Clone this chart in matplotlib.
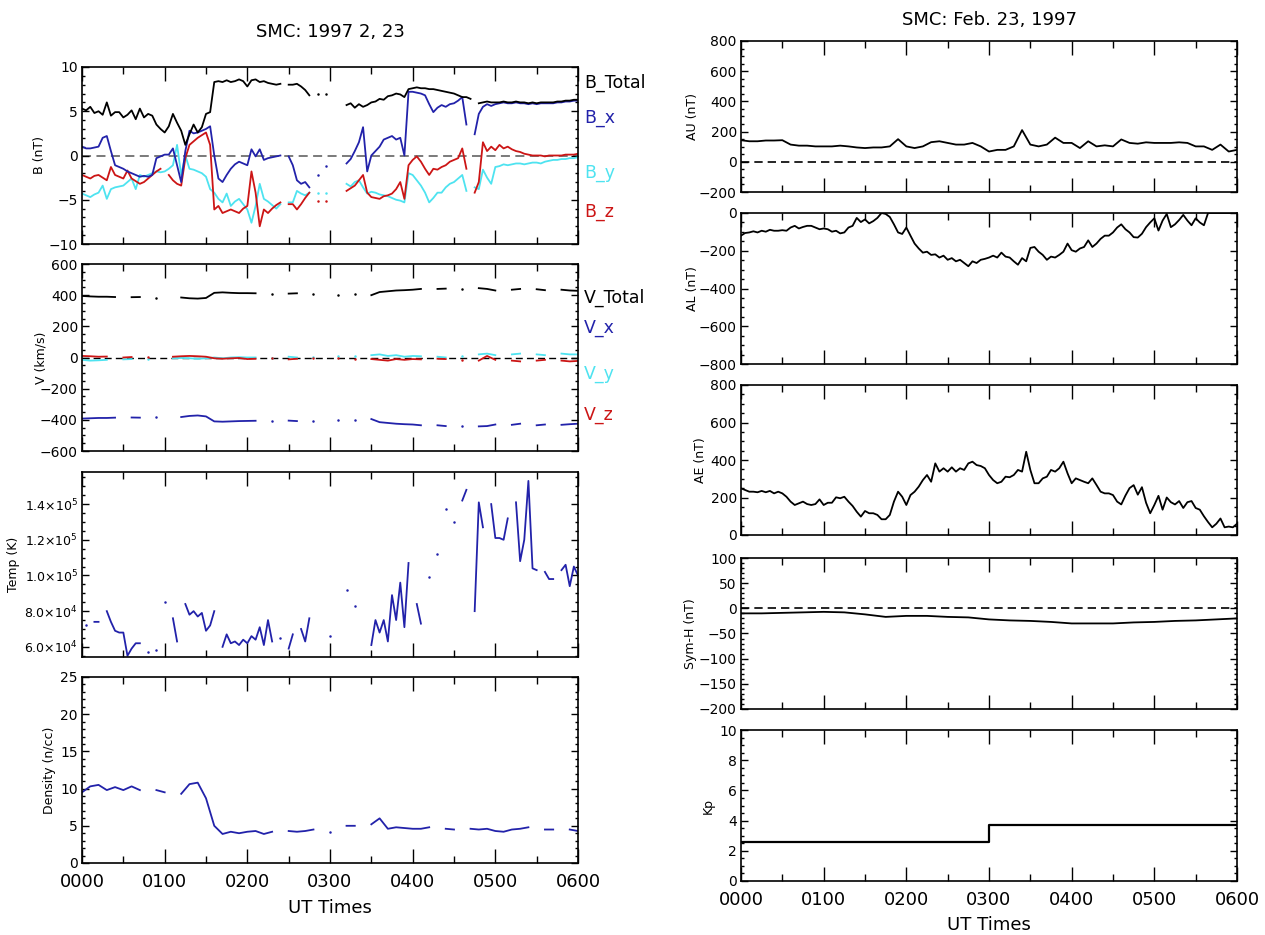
import numpy as np
import matplotlib.pyplot as plt
from matplotlib.ticker import MultipleLocator, FuncFormatter

nan = np.nan

# ---------------- solar wind, 0000-0600 UT ----------------
# IMF, 3-minute samples
b_total = [5.3, 5.1, 5.5, 4.8, 5.0, 4.6, 6.0, 4.5, 4.9, 4.9,
           4.3, 4.6, 5.1, 4.1, 5.3, 4.3, 4.7, 4.5, 3.5, 3.0,
           2.6, 3.3, 4.7, 3.7, 2.8, 1.2, 2.4, 3.5, 2.6, 3.2,
           4.7, 4.9, 8.3, 8.4, 8.3, 8.5, 8.3, 8.4, 8.6, 8.4,
           7.8, 8.5, 8.6, 8.3, 8.4, 8.2, 8.1, 8.0, 8.1, nan,
           8.0, 8.0, 8.1, 7.8, 7.4, 6.8, nan, 6.9, nan, 6.9,
           nan, nan, nan, nan, 5.7, 5.9, 5.4, 5.8, 5.5, 5.7,
           6.0, 6.1, 6.4, 6.3, 6.7, 6.8, 7.0, 6.9, 6.6, 7.5,
           7.6, 7.7, 7.6, 7.6, 7.5, 7.5, 7.4, 7.3, 7.2, 7.1,
           7.0, 6.8, 6.6, 6.6, 6.4, nan, 5.9, 6.0, 6.1, 6.0,
           6.0, 6.0, 6.1, 6.0, 6.0, 6.1, 6.0, 6.0, 5.9, 6.0,
           5.9, 6.0, 6.0, 6.0, 6.0, 6.1, 6.1, 6.2, 6.2, 6.3,
           6.3]
b_x = [1.0, 0.8, 0.8, 0.9, 1.0, 2.0, 2.2, 0.5, -1.1, -1.3,
       -1.5, -1.8, -2.0, -2.2, -2.4, -2.3, -2.4, -2.2, -0.3, -0.1,
       0.1, 0.1, 0.8, -1.1, -3.0, 0.5, 2.8, 2.5, 2.6, 2.8,
       3.0, 3.3, 0.0, -2.6, -3.0, -2.2, -1.5, -1.0, -0.7, -0.9,
       -1.1, 0.7, -0.1, 0.7, -0.5, -0.3, -0.2, -0.1, 0.0, nan,
       -0.1, -1.1, -2.8, -3.2, -3.0, -3.6, nan, -2.2, nan, -1.2,
       nan, nan, nan, nan, -0.9, -0.4, 0.5, 1.5, 3.2, -1.8,
       0.0, 0.5, 1.0, 1.8, 2.0, 2.2, 1.8, 2.0, 0.0, 7.2,
       7.2, 7.1, 7.0, 6.8, 5.8, 4.9, 5.4, 5.7, 5.5, 5.8,
       5.9, 6.2, 6.6, 3.5, nan, 2.4, 4.7, 5.5, 5.8, 5.6,
       5.8, 5.9, 6.0, 5.9, 5.9, 6.0, 5.9, 5.9, 5.8, 5.9,
       5.8, 5.9, 5.9, 5.9, 5.9, 6.0, 6.0, 6.1, 6.1, 6.2,
       6.2]
b_y = [-4.3, -4.5, -4.7, -4.4, -4.2, -3.4, -4.9, -3.8, -3.6, -3.5,
       -3.4, -3.0, -2.6, -3.8, -2.2, -2.4, -2.2, -2.0, -1.8, -1.9,
       -1.8, -1.5, -1.1, 1.2, -2.2, 0.0, -1.5, -1.6, -1.8, -2.0,
       -2.4, -3.8, -4.2, -4.9, -5.3, -4.3, -5.7, -5.2, -4.9, -5.5,
       -6.1, -7.6, -5.7, -3.2, -4.9, -5.2, -5.6, -6.0, -5.5, nan,
       -5.3, -5.3, -4.0, -4.3, -4.5, -4.2, nan, -4.2, nan, -4.2,
       nan, nan, nan, nan, -3.2, -3.5, -3.0, -2.8, -3.6, -4.3,
       -4.1, -4.2, -4.4, -4.5, -4.6, -4.8, -5.0, -5.1, -5.3, -2.0,
       -2.2, -2.8, -3.4, -4.2, -5.3, -4.8, -4.2, -4.2, -3.6, -3.2,
       -3.0, -2.6, -2.2, -4.0, nan, -3.6, -3.8, -1.6, -2.5, -3.2,
       -1.3, -1.2, -1.0, -1.1, -1.0, -0.9, -0.9, -1.0, -0.9, -0.8,
       -0.8, -0.9, -0.7, -0.6, -0.5, -0.5, -0.4, -0.4, -0.3, -0.3,
       -0.2]
b_z = [-2.2, -2.4, -2.6, -2.3, -2.2, -2.5, -2.8, -1.3, -2.2, -2.4,
       -2.6, -1.7, -2.6, -2.9, -3.2, -3.0, -2.6, -2.2, -1.8, -1.5,
       nan, -2.2, -2.8, -3.2, -3.4, -0.3, 1.2, 1.6, 2.0, 2.3,
       2.6, 1.2, -6.1, -5.7, -6.5, -6.3, -6.1, -6.3, -6.5, -6.0,
       -5.7, -1.8, -4.2, -8.0, -6.1, -6.5, -6.0, -5.6, -5.3, nan,
       -5.5, -5.5, -6.1, -5.5, -4.8, -4.2, nan, -5.1, nan, -5.1,
       nan, nan, nan, nan, -4.0, -3.7, -3.4, -2.8, -2.2, -4.2,
       -4.7, -4.8, -4.9, -4.6, -4.5, -4.3, -3.8, -3.0, -4.9, -1.1,
       -0.5, -0.1, -0.7, -1.5, -2.2, -1.5, -1.6, -1.3, -1.1, -0.7,
       -0.5, -0.3, 0.8, -1.5, nan, -4.2, -3.0, 1.5, 0.5, 1.0,
       0.6, 1.2, 0.8, 1.0, 0.7, 0.5, 0.4, 0.2, 0.1, 0.0,
       0.0, 0.0, -0.1, 0.0, 0.0, 0.0, 0.0, 0.1, 0.1, 0.1,
       0.2]

# plasma velocity, 6-minute samples
v_total = [395, 392, 390, 390, 388, nan, 387, 388, nan, 385,
           nan, nan, 385, 380, 378, 382, 415, 418, 415, 413,
           413, 412, nan, 410, nan, 410, 412, nan, 410, nan,
           nan, 400, nan, 405, nan, 400, 420, 425, 430, 432,
           435, 440, nan, 440, 442, nan, 440, nan, 445, 440,
           430, nan, 435, 440, nan, 438, 432, nan, 435, 430,
           428]
v_x = [-392, -390, -388, -388, -386, nan, -385, -386, nan, -383,
       nan, nan, -382, -375, -372, -378, -410, -412, -410, -408,
       -407, -406, nan, -405, nan, -405, -408, nan, -405, nan,
       nan, -400, nan, -400, nan, -395, -415, -420, -425, -428,
       -430, -435, nan, -435, -440, nan, -438, nan, -442, -440,
       -430, nan, -432, -425, nan, -435, -430, nan, -432, -428,
       -425]
v_y = [-15, -20, -18, -15, nan, -12, -10, nan, -8, nan,
       nan, -5, -3, -5, -8, -5, 0, -5, 0, 2,
       0, 0, nan, -2, nan, 5, 0, nan, 5, nan,
       nan, 10, nan, 8, nan, 15, 20, 10, 15, 5,
       10, 8, nan, 5, 0, nan, 10, nan, 20, 25,
       15, nan, 20, 25, nan, 20, 15, nan, 25, 20,
       20]
v_z = [10, 8, 5, 6, nan, 0, 3, nan, 2, nan,
       nan, 5, 8, 10, 8, 5, -5, -8, -5, -3,
       -10, -8, nan, -5, nan, -12, -8, nan, -5, nan,
       nan, -5, nan, -8, nan, -10, -15, -20, -10, -15,
       -10, -12, nan, -8, -10, nan, -15, nan, -20, 10,
       -15, nan, -20, -25, nan, -20, -15, nan, -20, -25,
       -22]

# proton temperature, 3-minute samples
temp = [nan, 7.2e4, nan, 7.4e4, 7.4e4, nan, 8.0e4, 7.4e4, 6.9e4, 6.8e4,
        6.8e4, 5.5e4, 5.9e4, 6.2e4, 6.2e4, nan, 5.7e4, nan, 5.8e4, nan,
        8.5e4, nan, 7.6e4, 6.3e4, nan, 8.4e4, 7.8e4, 8.0e4, 7.7e4, 7.9e4,
        6.9e4, 7.2e4, 8.0e4, nan, 6.0e4, 6.7e4, 6.2e4, 6.3e4, 6.1e4, 6.4e4,
        6.2e4, 6.6e4, 6.4e4, 7.1e4, 6.1e4, 7.5e4, 6.3e4, nan, 6.5e4, nan,
        5.9e4, 6.7e4, nan, 7.0e4, 6.3e4, 7.6e4, nan, nan, nan, nan,
        6.6e4, nan, nan, nan, 9.2e4, nan, 8.3e4, nan, nan, nan,
        6.1e4, 7.5e4, 6.8e4, 7.5e4, 6.3e4, 8.9e4, 7.5e4, 9.6e4, 7.1e4, 1.07e5,
        nan, 8.4e4, 7.3e4, nan, 9.9e4, nan, 1.12e5, nan, 1.37e5, nan,
        1.30e5, nan, 1.42e5, 1.48e5, nan, 8.0e4, 1.41e5, 1.27e5, nan, 1.40e5,
        1.21e5, 1.21e5, 1.20e5, 1.32e5, nan, 1.41e5, 1.08e5, 1.20e5, 1.53e5, 1.04e5,
        1.03e5, nan, 1.02e5, 9.8e4, 9.8e4, nan, 1.03e5, 1.06e5, 9.4e4, 1.05e5,
        1.0e5]

# proton density, 6-minute samples
density = [9.5, 10.3, 10.5, 9.8, 10.2, 9.8, 10.3, 9.8, nan, 9.8,
           9.5, nan, 9.3, 10.6, 10.8, 8.7, 5.0, 3.9, 4.2, 4.0,
           4.2, 4.3, 3.9, 4.2, nan, 4.3, 4.2, 4.3, 4.5, nan,
           4.2, nan, 5.0, 5.0, nan, 5.2, 6.0, 4.6, 4.8, 4.7,
           4.6, 4.6, 4.8, nan, 4.6, 4.5, nan, 4.6, 4.5, 4.6,
           4.3, 4.2, 4.5, 4.6, 4.8, nan, 4.5, 4.5, nan, 4.5,
           4.3]

# ---------------- geomagnetic indices ----------------
au = [143, 136, 136, 141, 141, 143, 114, 107, 107, 102,
      102, 102, 107, 102, 95, 91, 95, 95, 102, 150,
      102, 91, 102, 130, 136, 125, 114, 114, 125, 102,
      68, 79, 79, 102, 210, 114, 102, 114, 160, 125,
      125, 91, 136, 102, 109, 102, 148, 125, 120, 129,
      125, 125, 125, 129, 125, 102, 102, 79, 114, 68,
      79]

al = [-120, -106, -103, -97, -103, -94, -99, -89, -94, -94,
      -91, -94, -77, -68, -82, -74, -68, -68, -77, -86,
      -82, -86, -99, -94, -108, -103, -77, -68, -26, -48,
      -34, -55, -43, -26, 0, -5, -21, -60, -103, -111,
      -77, -120, -162, -188, -210, -205, -222, -219, -236, -226,
      -248, -239, -256, -248, -265, -282, -256, -265, -248, -243,
      -236, -226, -236, -210, -231, -236, -256, -274, -239, -256,
      -185, -180, -205, -222, -248, -231, -236, -222, -205, -162,
      -197, -205, -188, -180, -145, -180, -162, -137, -120, -120,
      -103, -77, -60, -86, -103, -128, -130, -110, -75, -50,
      -28, -93, -40, -5, -75, -60, -37, -10, -40, -65,
      -28, -50, -65, 0, 0, 0, 0, 0, 0, 0,
      0]

ae = [249, 240, 231, 231, 228, 235, 228, 235, 222, 231,
      222, 204, 178, 160, 169, 178, 165, 160, 165, 190,
      160, 172, 172, 201, 196, 204, 178, 155, 124, 98,
      128, 116, 116, 107, 84, 84, 107, 178, 231, 204,
      160, 213, 231, 258, 293, 320, 284, 382, 338, 356,
      338, 361, 338, 356, 347, 382, 391, 373, 368, 356,
      320, 293, 276, 284, 311, 308, 320, 347, 338, 444,
      347, 276, 276, 302, 311, 347, 338, 356, 391, 329,
      276, 302, 293, 284, 276, 302, 267, 231, 222, 222,
      213, 178, 163, 210, 250, 266, 215, 255, 172, 116,
      160, 209, 135, 200, 175, 163, 181, 144, 175, 181,
      144, 135, 100, 69, 41, 60, 88, 41, 45, 41,
      60]

sym_h = [-10, -10, -9, -8, -7, -8, -12, -17, -15, -15, -17, -18, -22,
         -24, -25, -27, -30, -30, -30, -28, -27, -25, -24, -22, -20]

kp_t = [0, 3, 6]
kp = [2.6, 3.7, 3.7]

BLUE = '#2222aa'
CYAN = '#4ee3f0'
RED = '#cc1515'

W, H = 1265, 935
fig = plt.figure(figsize=(W / 100, H / 100), dpi=100)


def box(x0, x1, y0, y1):
    return fig.add_axes([x0 / W, 1 - y1 / H, (x1 - x0) / W, (y1 - y0) / H])


def trace(ax, v, color, lw=1.3):
    v = np.asarray(v, float)
    t = np.linspace(0, 6, len(v))
    ax.plot(t, v, color=color, lw=lw)
    ok = ~np.isnan(v)
    lone = ok & ~np.r_[False, ok[:-1]] & ~np.r_[ok[1:], False]
    ax.plot(t[lone], v[lone], 'o', ms=1.8, color=color, mec='none')


def style(ax, ylim, major, minor, label, lx, xlabels=False, ysize=10):
    ax.set_xlim(0, 6)
    ax.set_ylim(*ylim)
    ax.xaxis.set_major_locator(MultipleLocator(1))
    ax.xaxis.set_minor_locator(MultipleLocator(0.5))
    ax.yaxis.set_major_locator(MultipleLocator(major))
    ax.yaxis.set_minor_locator(MultipleLocator(minor))
    ax.tick_params(which='both', direction='in', top=True, right=True, width=1.0)
    ax.tick_params(axis='x', which='major', length=10, labelsize=13, pad=7)
    ax.tick_params(axis='x', which='minor', length=5)
    ax.tick_params(axis='y', which='major', length=5, labelsize=ysize, pad=3)
    ax.tick_params(axis='y', which='minor', length=2.5)
    for s in ax.spines.values():
        s.set_linewidth(1.2)
    if xlabels:
        ax.xaxis.set_major_formatter(FuncFormatter(lambda v, p: '%02d00' % round(v)))
    else:
        ax.tick_params(axis='x', labelbottom=False)
    ax.set_ylabel(label, fontsize=9)
    ax.yaxis.set_label_coords(lx, 0.5)


def side_labels(ax, items):
    for txt, col, y in items:
        ax.text(1.012, y, txt, color=col, fontsize=12.5, va='center',
                transform=ax.transAxes)


# ---------------- left column ----------------
L0, L1 = 82, 578
ax = box(L0, L1, 67, 244)
ax.axhline(0, color='#707070', ls=(0, (5, 3)), lw=1.3, zorder=1)
for v, c in [(b_y, CYAN), (b_z, RED), (b_x, BLUE), (b_total, 'k')]:
    trace(ax, v, c)
style(ax, (-10, 10), 5, 1, 'B (nT)', -0.073)
side_labels(ax, [('B_Total', 'k', 0.91), ('B_x', BLUE, 0.71),
                 ('B_y', CYAN, 0.40), ('B_z', RED, 0.18)])

ax = box(L0, L1, 264, 451)
ax.axhline(0, color='k', ls=(0, (5, 3)), lw=1.0, zorder=1)
for v, c in [(v_y, CYAN), (v_z, RED), (v_total, 'k'), (v_x, BLUE)]:
    trace(ax, v, c)
style(ax, (-600, 600), 200, 50, 'V (km/s)', -0.069)
side_labels(ax, [('V_Total', 'k', 0.82), ('V_x', BLUE, 0.66),
                 ('V_y', CYAN, 0.41), ('V_z', RED, 0.19)])

ax = box(L0, L1, 472, 657)
trace(ax, temp, BLUE)
style(ax, (5.43e4, 1.58e5), 2e4, 5e3, 'Temp (K)', -0.125, ysize=9)


def sci(v, p):
    e = int(np.floor(np.log10(v)))
    return r'$%.1f{\times}10^{%d}$' % (v / 10 ** e, e)


ax.yaxis.set_major_formatter(FuncFormatter(sci))

ax = box(L0, L1, 677, 863)
trace(ax, density, BLUE)
style(ax, (0, 25), 5, 1, 'Density (n/cc)', -0.052, xlabels=True)

fig.text((L0 + L1) / 2 / W, 1 - 32 / H, 'SMC: 1997 2, 23', ha='center', va='center', fontsize=13)
fig.text((L0 + L1) / 2 / W, 1 - 908 / H, 'UT Times', ha='center', va='center', fontsize=13)

# ---------------- right column ----------------
R0, R1 = 741, 1237
ax = box(R0, R1, 41, 192)
ax.axhline(0, color='k', ls=(0, (5, 3)), lw=1.2, zorder=1)
trace(ax, au, 'k')
style(ax, (-200, 800), 200, 50, 'AU (nT)', -0.085)

ax = box(R0, R1, 213, 364)
trace(ax, al, 'k')
style(ax, (-800, 0), 200, 50, 'AL (nT)', -0.085)

ax = box(R0, R1, 385, 535)
trace(ax, ae, 'k')
style(ax, (0, 800), 200, 50, 'AE (nT)', -0.069)

ax = box(R0, R1, 558, 709)
ax.axhline(0, color='k', ls=(0, (5, 3)), lw=1.2, zorder=1)
trace(ax, sym_h, 'k')
style(ax, (-200, 100), 50, 10, 'Sym-H (nT)', -0.089)

ax = box(R0, R1, 730, 881)
ax.plot(kp_t, kp, color='k', lw=1.6, drawstyle='steps-post')
style(ax, (0, 10), 2, 0.5, 'Kp', -0.052, xlabels=True)

fig.text((R0 + R1) / 2 / W, 1 - 20 / H, 'SMC: Feb. 23, 1997', ha='center', va='center', fontsize=13)
fig.text((R0 + R1) / 2 / W, 1 - 925 / H, 'UT Times', ha='center', va='center', fontsize=13)

fig.savefig('out.png', dpi=100)
